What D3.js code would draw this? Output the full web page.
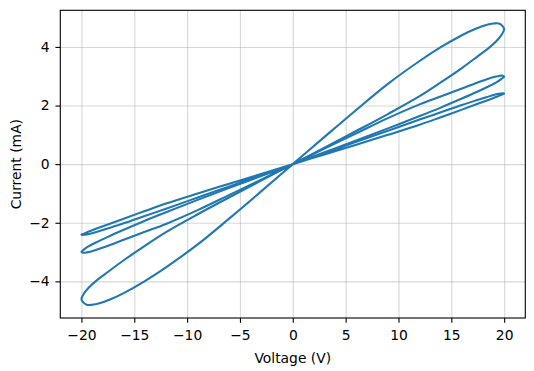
<!DOCTYPE html>
<html>
<head>
<meta charset="utf-8">
<script src="https://cdn.jsdelivr.net/npm/d3@7"></script>
<style>
  html, body { margin: 0; padding: 0; background: #fff; }
  svg { display: block; font-family: "DejaVu Sans", sans-serif; }
</style>
</head>
<body>
<div id="chart"></div>
<script>
// ---------- Data ----------
// shared voltage samples: Q1 out, Q1 back, Q3 out, Q3 back
const voltage = [
  0, 3, 6, 9, 12, 14, 16, 17.5, 18.5, 19.3, 19.75, 20,
  19.85, 19.5, 19, 18.3, 17.3, 16, 14, 12, 9, 6, 3, 0,
  -3, -6, -9, -12, -14, -16, -17.3, -18.3, -19, -19.5, -19.85, -20,
  -19.75, -19.3, -18.5, -17.5, -16, -14, -12, -9, -6, -3, 0
];

const currentLarge = [
  0, 0.56, 1.13, 1.71, 2.32, 2.79, 3.28, 3.68, 3.95, 4.21, 4.41, 4.6,
  4.71, 4.8, 4.8, 4.75, 4.62, 4.4, 3.99, 3.52, 2.74, 1.85, 0.93, 0,
  -0.93, -1.85, -2.74, -3.52, -3.99, -4.4, -4.62, -4.75, -4.8, -4.8, -4.71, -4.6,
  -4.41, -4.21, -3.95, -3.68, -3.28, -2.79, -2.32, -1.71, -1.13, -0.56, 0
];

const currentMedium = [
  0, 0.405, 0.81, 1.22, 1.64, 1.93, 2.24, 2.48, 2.65, 2.8, 2.91, 2.99,
  3.02, 3.01, 2.97, 2.89, 2.76, 2.58, 2.31, 2.04, 1.57, 1.05, 0.53, 0,
  -0.53, -1.05, -1.57, -2.04, -2.31, -2.58, -2.76, -2.89, -2.97, -3.01, -3.02, -2.99,
  -2.91, -2.8, -2.65, -2.48, -2.24, -1.93, -1.64, -1.22, -0.81, -0.405, 0
];

const currentSmall = [
  0, 0.333, 0.666, 1.0, 1.344, 1.6, 1.86, 2.06, 2.19, 2.3, 2.37, 2.41,
  2.415, 2.4, 2.36, 2.28, 2.17, 2.02, 1.77, 1.52, 1.14, 0.76, 0.38, 0,
  -0.38, -0.76, -1.14, -1.52, -1.77, -2.02, -2.17, -2.28, -2.36, -2.4, -2.415, -2.41,
  -2.37, -2.3, -2.19, -2.06, -1.86, -1.6, -1.344, -1.0, -0.666, -0.333, 0
];

const xTicks = [-20, -15, -10, -5, 0, 5, 10, 15, 20];
const yTicks = [-4, -2, 0, 2, 4];
const xDomain = [-22, 22];
const yDomain = [-5.25, 5.25];

// ---------- Layout ----------
const W = 534, H = 371;
const plot = { left: 60.3, top: 10.3, width: 465, height: 307.7 };
const FONT = 13.89;
const TICK = 4.86;

const svg = d3.select("#chart").append("svg")
  .attr("width", W).attr("height", H);
svg.append("rect").attr("width", W).attr("height", H).attr("fill", "#fff");

const x = d3.scaleLinear().domain(xDomain)
  .range([plot.left, plot.left + plot.width]);
const y = d3.scaleLinear().domain(yDomain)
  .range([plot.top + plot.height, plot.top]);

// grid
svg.append("g")
  .attr("transform", `translate(0, ${plot.top + plot.height})`)
  .call(d3.axisBottom(x).tickValues(xTicks).tickSize(-plot.height).tickFormat(""))
  .call((g) => g.select(".domain").remove())
  .selectAll("line")
  .attr("stroke", "#b0b0b0").attr("stroke-opacity", 0.5).attr("stroke-width", 1.1);

svg.append("g")
  .attr("transform", `translate(${plot.left}, 0)`)
  .call(d3.axisLeft(y).tickValues(yTicks).tickSize(-plot.width).tickFormat(""))
  .call((g) => g.select(".domain").remove())
  .selectAll("line")
  .attr("stroke", "#b0b0b0").attr("stroke-opacity", 0.5).attr("stroke-width", 1.1);

// loops
const loops = [currentLarge, currentMedium, currentSmall];
const line = d3.line()
  .x((d) => x(d[0]))
  .y((d) => y(d[1]))
  .curve(d3.curveCatmullRom.alpha(0.5));

svg.append("g")
  .selectAll("path")
  .data(loops)
  .enter()
  .append("path")
  .attr("d", (cur) => line(voltage.map((v, i) => [v, cur[i]])))
  .attr("fill", "none")
  .attr("stroke", "#1f77b4")
  .attr("stroke-width", 2.08)
  .attr("stroke-linejoin", "round");

// frame
svg.append("rect")
  .attr("x", plot.left).attr("y", plot.top)
  .attr("width", plot.width).attr("height", plot.height)
  .attr("fill", "none").attr("stroke", "#000").attr("stroke-width", 1.1);

// axes
const fmt = (d) => (d < 0 ? "\u2212" + Math.abs(d) : String(d));

const xAxis = svg.append("g")
  .attr("transform", `translate(0, ${plot.top + plot.height})`)
  .call(d3.axisBottom(x).tickValues(xTicks).tickSize(TICK).tickPadding(6.8).tickFormat(fmt));
xAxis.select(".domain").remove();

const yAxis = svg.append("g")
  .attr("transform", `translate(${plot.left}, 0)`)
  .call(d3.axisLeft(y).tickValues(yTicks).tickSize(TICK).tickPadding(5.8).tickFormat(fmt));
yAxis.select(".domain").remove();

svg.selectAll(".tick line").filter(function () {
  return this.getAttribute("stroke") === "currentColor";
}).attr("stroke", "#000").attr("stroke-width", 1.1);

svg.selectAll(".tick text")
  .attr("fill", "#000")
  .attr("font-size", FONT)
  .attr("font-family", "DejaVu Sans, sans-serif");

// labels
svg.append("text")
  .attr("x", plot.left + plot.width / 2)
  .attr("y", 363)
  .attr("text-anchor", "middle")
  .attr("font-size", FONT)
  .attr("fill", "#000")
  .text("Voltage (V)");

svg.append("text")
  .attr("transform", `translate(20.5, ${plot.top + plot.height / 2}) rotate(-90)`)
  .attr("text-anchor", "middle")
  .attr("font-size", FONT)
  .attr("fill", "#000")
  .text("Current (mA)");
</script>
</body>
</html>
